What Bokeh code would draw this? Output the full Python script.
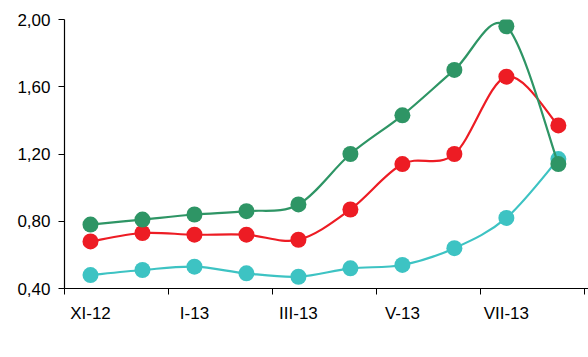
import numpy as np
from bokeh.plotting import figure
from bokeh.models import (Range1d, FixedTicker, CustomJSTickFormatter, Legend, LegendItem)
from bokeh.embed import file_html
from bokeh.resources import INLINE

months = ["XI-12", "XII-12", "I-13", "II-13", "III-13", "IV-13", "V-13", "VI-13", "VII-13", "VIII-13"]
cebula = [0.68, 0.73, 0.72, 0.72, 0.69, 0.87, 1.14, 1.20, 1.66, 1.37]
kapusta = [0.48, 0.51, 0.53, 0.49, 0.47, 0.52, 0.54, 0.64, 0.82, 1.17]
marchew = [0.78, 0.81, 0.84, 0.86, 0.90, 1.20, 1.43, 1.70, 1.96, 1.14]
names = ["cebula", "kapusta biała (szt.)", "marchew"]
colors = ["#ED1C24", "#3DC3C3", "#2E9565"]
y_ticks = [0.4, 0.8, 1.2, 1.6, 2.0]

p = figure(width=588, height=357, frame_width=524, frame_height=269,
           output_backend="svg", toolbar_location=None,
           x_range=Range1d(-0.5, 9.58), y_range=Range1d(0.4, 2.0),
           min_border_left=64, min_border_right=0, min_border_top=19, min_border_bottom=0)
p.outline_line_color = None
p.xgrid.visible = False
p.ygrid.visible = False

x = np.arange(len(months), dtype=float)


def smooth(xs, ys):
    xs = np.asarray(xs, float)
    ys = np.asarray(ys, float)
    n = len(xs)
    px = np.concatenate([[xs[0]], xs, [xs[-1]]])
    py = np.concatenate([[ys[0]], ys, [ys[-1]]])
    x0 = xs[:-1]; y0 = ys[:-1]; x1 = xs[1:]; y1 = ys[1:]
    cx0 = x0 + (px[2:n + 1] - px[0:n - 1]) / 6.0
    cy0 = y0 + (py[2:n + 1] - py[0:n - 1]) / 6.0
    cx1 = x1 - (px[3:n + 2] - px[1:n]) / 6.0
    cy1 = y1 - (py[3:n + 2] - py[1:n]) / 6.0
    return dict(x0=x0, y0=y0, x1=x1, y1=y1, cx0=cx0, cy0=cy0, cx1=cx1, cy1=cy1)


items = []
for name, ys, c in zip(names, [cebula, kapusta, marchew], colors):
    d = smooth(x, ys)
    br = p.bezier(x0=d["x0"], y0=d["y0"], x1=d["x1"], y1=d["y1"],
                  cx0=d["cx0"], cy0=d["cy0"], cx1=d["cx1"], cy1=d["cy1"],
                  line_color=c, line_width=2.2)
    sr = p.scatter(x=x, y=ys, size=16, fill_color=c, line_color=c, line_width=0)
    items.append(LegendItem(label=name, renderers=[br, sr]))

legend = Legend(items=items, orientation="horizontal", location=(-14, 0),
                glyph_width=48, glyph_height=16, label_height=16, label_standoff=4,
                spacing=40, padding=2, margin=0, border_line_color=None,
                background_fill_alpha=0,
                label_text_font="Liberation Sans", label_text_font_size="16px",
                label_text_font_style="bold", label_text_color="black")
p.add_layout(legend, "below")

# x axis
p.xaxis.ticker = FixedTicker(ticks=[0, 2, 4, 6, 8], minor_ticks=[-0.5, 1.5, 3.5, 5.5, 7.5, 9.5])
p.xaxis.major_label_overrides = {i: months[i] for i in range(0, len(months), 2)}
p.xaxis.major_tick_out = 0
p.xaxis.major_tick_in = 0
p.xaxis.minor_tick_out = 6
p.xaxis.minor_tick_in = 0
p.xaxis.minor_tick_line_color = "black"
p.xaxis.axis_line_color = "black"
p.xaxis.axis_line_width = 1.2
p.xaxis.major_label_standoff = 9
p.xaxis.axis_label_standoff = 0
p.xaxis.major_label_text_font = "Liberation Sans"
p.xaxis.major_label_text_font_size = "17px"
p.xaxis.major_label_text_color = "black"

# y axis
p.yaxis.ticker = FixedTicker(ticks=y_ticks, minor_ticks=[])
p.yaxis.formatter = CustomJSTickFormatter(code="return tick.toFixed(2).replace('.', ',');")
p.yaxis.major_tick_out = 6
p.yaxis.major_tick_in = 0
p.yaxis.major_tick_line_color = "black"
p.yaxis.axis_line_color = "black"
p.yaxis.axis_line_width = 1.2
p.yaxis.major_label_standoff = 8
p.yaxis.major_label_text_font = "Liberation Sans"
p.yaxis.major_label_text_font_size = "17px"
p.yaxis.major_label_text_color = "black"

open("out.html", "w").write(file_html(p, INLINE))
